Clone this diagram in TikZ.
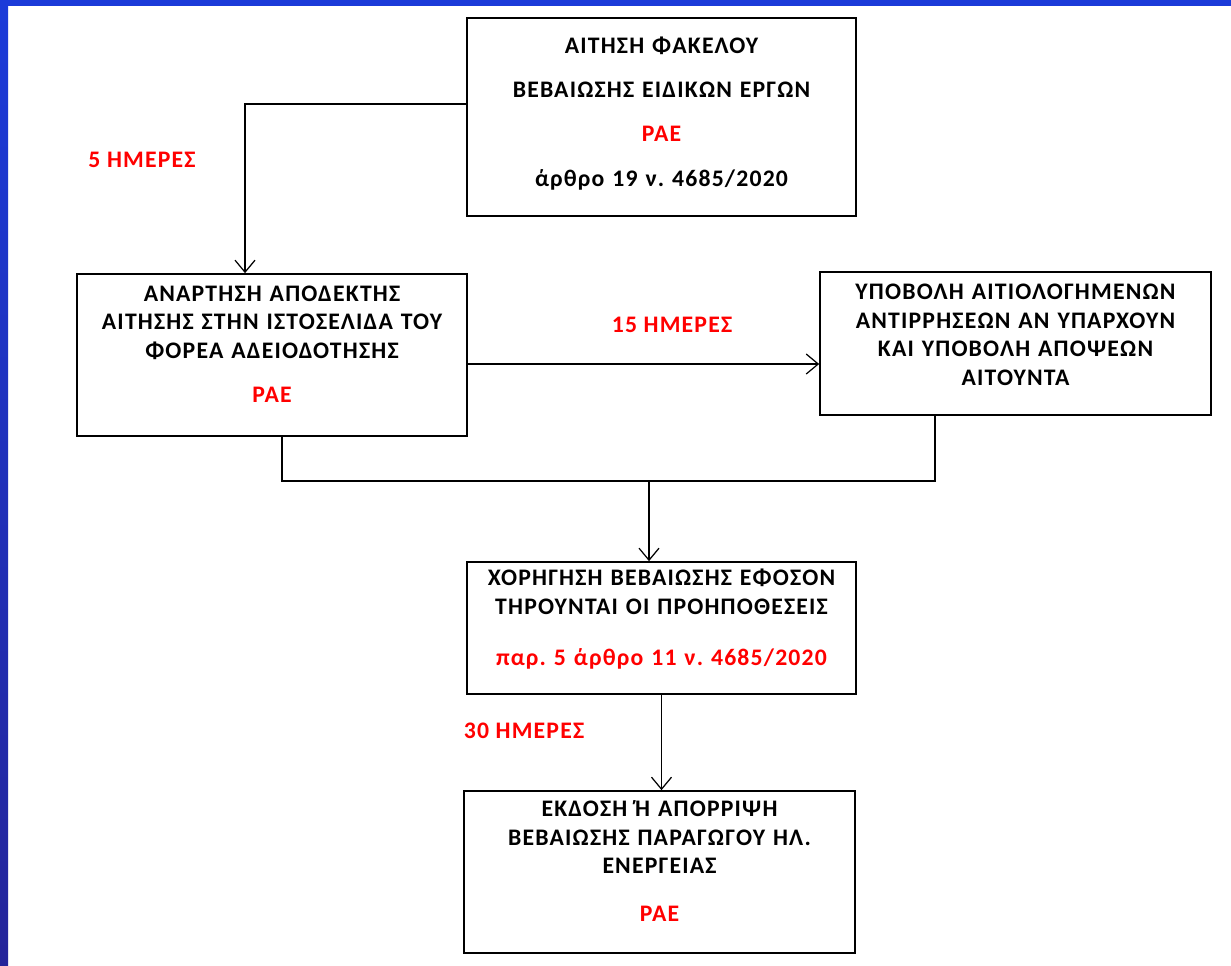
\documentclass[tikz,border=0pt]{standalone}
\usepackage{fontspec}
\setmainfont{Carlito}[LetterSpace=5]
\usetikzlibrary{arrows.meta,positioning}
\definecolor{rae}{HTML}{FF0000}
\definecolor{frametop}{HTML}{1B3BD9}
\definecolor{framebot}{HTML}{24249A}
\frenchspacing

\begin{document}
\begin{tikzpicture}[x=0.02cm,y=-0.02cm,>={Straight Barb[length=2.4mm,width=4mm]},
  box/.style={draw,line width=1pt,align=center,text width=7.6cm,inner sep=0pt,
    font=\bfseries\fontsize{13.5}{16.2}\selectfont},
  days/.style={text=rae,font=\bfseries\fontsize{13.5}{16.2}\selectfont},
  link/.style={line width=0.7pt}]
\useasboundingbox (0,0) rectangle (1231,965);
\fill[white] (0,0) rectangle (1231,965);
\shade[top color=frametop,bottom color=framebot] (0,0) rectangle (8,965);
\fill[frametop] (0,0) rectangle (1231,6);

% boxes
\node[box,minimum width=7.78cm,minimum height=3.96cm] (app) at (661.5,117)
  {ΑΙΤΗΣΗ ΦΑΚΕΛΟΥ\\[9pt] ΒΕΒΑΙΩΣΗΣ ΕΙΔΙΚΩΝ ΕΡΓΩΝ\\[9pt]
   \textcolor{rae}{ΡΑΕ}\\[9pt] άρθρο 19 ν. 4685/2020\\[-10pt]\mbox{}};
\node[box,minimum width=7.8cm,minimum height=3.24cm] (post) at (272,355)
  {ΑΝΑΡΤΗΣΗ ΑΠΟΔΕΚΤΗΣ\\ ΑΙΤΗΣΗΣ ΣΤΗΝ ΙΣΤΟΣΕΛΙΔΑ ΤΟΥ\\ ΦΟΡΕΑ ΑΔΕΙΟΔΟΤΗΣΗΣ\\[9pt]
   \textcolor{rae}{ΡΑΕ}\\[-4pt]\mbox{}};
\node[box,minimum width=7.82cm,minimum height=2.86cm] (obj) at (1015.5,343.5)
  {ΥΠΟΒΟΛΗ ΑΙΤΙΟΛΟΓΗΜΕΝΩΝ\\ ΑΝΤΙΡΡΗΣΕΩΝ ΑΝ ΥΠΑΡΧΟΥΝ\\ ΚΑΙ ΥΠΟΒΟΛΗ ΑΠΟΨΕΩΝ\\ ΑΙΤΟΥΝΤΑ\\[-6pt]\mbox{}};
\node[box,minimum width=7.78cm,minimum height=2.64cm] (grant) at (661.5,628)
  {ΧΟΡΗΓΗΣΗ ΒΕΒΑΙΩΣΗΣ ΕΦΟΣΟΝ\\ ΤΗΡΟΥΝΤΑΙ ΟΙ ΠΡΟΗΠΟΘΕΣΕΙΣ\\[13pt]
   \textcolor{rae}{παρ. 5 άρθρο 11 ν. 4685/2020}\\[-4pt]\mbox{}};
\node[box,minimum width=7.82cm,minimum height=3.24cm] (issue) at (659.5,872)
  {ΕΚΔΟΣΗ Ή ΑΠΟΡΡΙΨΗ\\ ΒΕΒΑΙΩΣΗΣ ΠΑΡΑΓΩΓΟΥ ΗΛ.\\ ΕΝΕΡΓΕΙΑΣ\\[11pt]
   \textcolor{rae}{ΡΑΕ}\\[-4pt]\mbox{}};

% deadlines
\node[days] (d5) at (142,160) {5 ΗΜΕΡΕΣ};
\node[days] (d15) at (672,325) {15 ΗΜΕΡΕΣ};
\node[days] (d30) at (524,731) {30 ΗΜΕΡΕΣ};

% connectors
\coordinate (k1) at (245,104);
\coordinate (mid) at (640,364);
\coordinate (jl) at (282,481);
\coordinate (jr) at (935,481);
\coordinate (j) at (649,481);
\draw[link,->] (app.west |- k1) -- (k1) -- (k1 |- post.north);
\draw[link,->] (post.east |- mid) -- (obj.west |- mid);
\draw[link] (post.south -| jl) -- (jl) -- (jr) -- (obj.south -| jr);
\draw[link,->] (j) -- (grant.north -| j);
\draw[link,->] (grant.south) -- (grant.south |- issue.north);
\end{tikzpicture}
\end{document}
